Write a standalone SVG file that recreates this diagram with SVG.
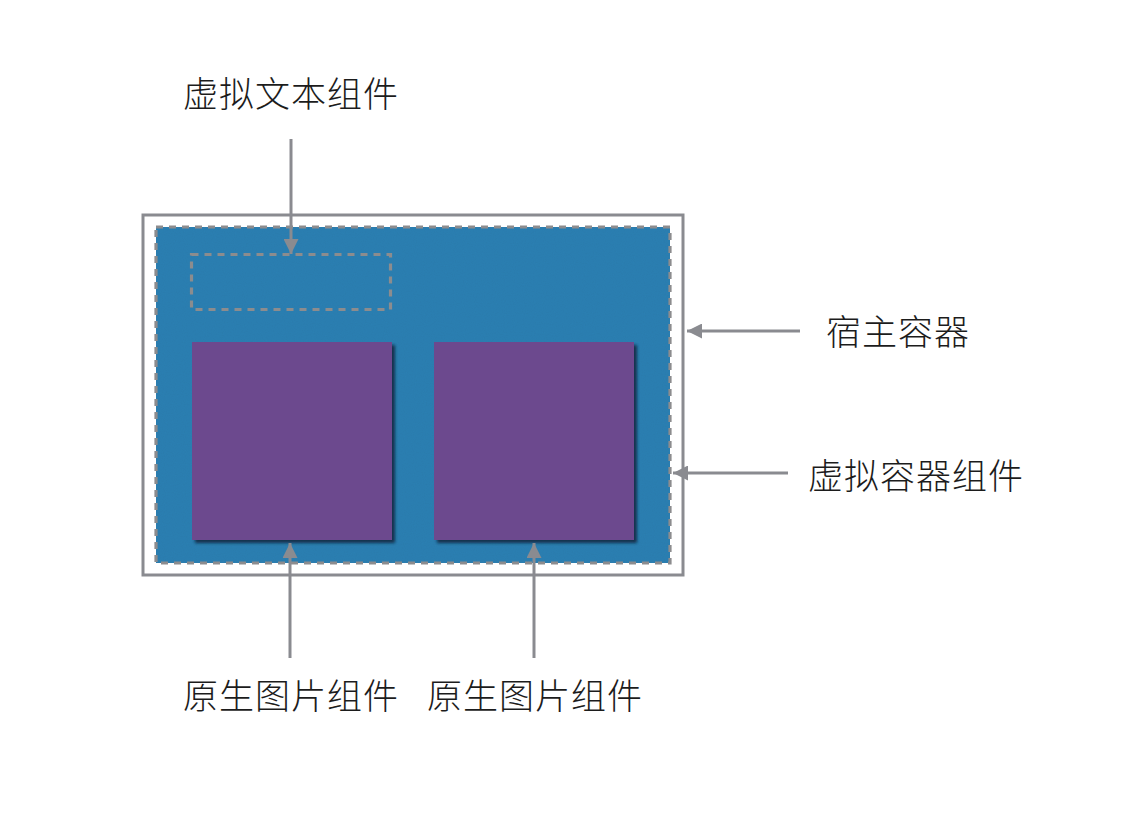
<svg xmlns="http://www.w3.org/2000/svg" width="1130" height="838" viewBox="0 0 1130 838">
<style>
.lbl{font-family:"Noto Sans CJK SC","Noto Sans",sans-serif;font-size:35px;fill:#1c1c1c;font-weight:300;letter-spacing:1px}
.conn{stroke:#8a8b90;stroke-width:3;fill:none}
.dash{fill:none;stroke:#8c8c8e;stroke-width:3.2;stroke-dasharray:7 6}
.img{fill:#6c4a8e}
</style>
<defs>
<marker id="ah" viewBox="0 0 10 10" refX="10" refY="5" markerWidth="5" markerHeight="5" orient="auto" markerUnits="strokeWidth">
<path d="M0,0 L10,5 L0,10 z" fill="#8a8b90"/>
</marker>
<filter id="sh" x="-10%" y="-10%" width="130%" height="130%">
<feGaussianBlur in="SourceAlpha" stdDeviation="1.5"/>
<feOffset dx="3" dy="3" result="b"/>
<feFlood flood-color="#10243a" flood-opacity="0.85"/>
<feComposite in2="b" operator="in"/>
<feMerge><feMergeNode/><feMergeNode in="SourceGraphic"/></feMerge>
</filter>
<filter id="noise" x="0" y="0" width="100%" height="100%">
<feTurbulence type="fractalNoise" baseFrequency="0.9" numOctaves="2" seed="3" result="n"/>
<feColorMatrix in="n" type="matrix" values="0 0 0 0 0  0 0 0 0 0  0 0 0 0 0  0 0 0 0.08 0" result="na"/>
<feComposite in="na" in2="SourceGraphic" operator="in" result="nm"/>
<feMerge><feMergeNode in="SourceGraphic"/><feMergeNode in="nm"/></feMerge>
</filter>
</defs>
<rect width="1130" height="838" fill="#ffffff"/>
<g id="host">
<rect x="143" y="215" width="540" height="360" fill="#ffffff" stroke="#8a8b90" stroke-width="3"/>
</g>
<g id="virtual-container">
<rect x="156" y="227" width="514" height="336" fill="#2f80b3" filter="url(#noise)"/>
<rect x="156" y="227" width="514" height="336" class="dash"/>
</g>
<g id="virtual-text">
<rect x="191.5" y="254.5" width="199" height="55" class="dash"/>
</g>
<g id="image1">
<rect x="192" y="342" width="200" height="198" class="img" filter="url(#sh)"/>
</g>
<g id="image2">
<rect x="434" y="342" width="200" height="198" class="img" filter="url(#sh)"/>
</g>
<g id="connectors">
<line x1="291" y1="139" x2="291" y2="254" class="conn" marker-end="url(#ah)"/>
<line x1="800" y1="331" x2="687" y2="331" class="conn" marker-end="url(#ah)"/>
<line x1="788" y1="473" x2="673" y2="473" class="conn" marker-end="url(#ah)"/>
<line x1="290" y1="658" x2="290" y2="543" class="conn" marker-end="url(#ah)"/>
<line x1="534" y1="658" x2="534" y2="543" class="conn" marker-end="url(#ah)"/>
</g>
<g id="labels">
<text class="lbl" x="183" y="107">虚拟文本组件</text>
<text class="lbl" x="826" y="345">宿主容器</text>
<text class="lbl" x="808" y="489">虚拟容器组件</text>
<text class="lbl" x="183" y="709">原生图片组件</text>
<text class="lbl" x="427" y="709">原生图片组件</text>
</g>
</svg>
